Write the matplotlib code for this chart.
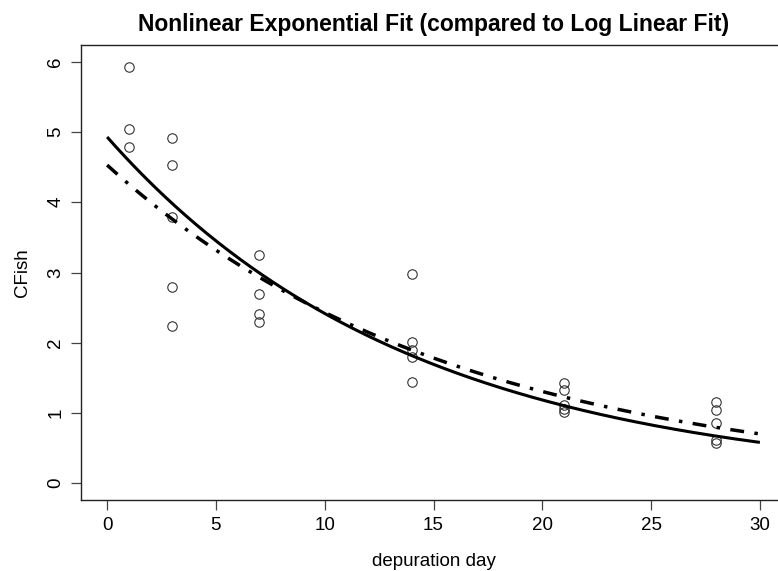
import numpy as np
import matplotlib
matplotlib.use("Agg")
import matplotlib.pyplot as plt

plt.rcParams['font.family'] = ['Liberation Sans', 'DejaVu Sans']

# observed fish concentrations by depuration day
day = [1, 1, 1,
       3, 3, 3, 3, 3,
       7, 7, 7, 7,
       14, 14, 14, 14, 14,
       21, 21, 21, 21, 21,
       28, 28, 28, 28, 28]
cfish = [5.93, 5.05, 4.79,
         4.91, 4.53, 3.79, 2.79, 2.24,
         3.25, 2.69, 2.41, 2.29,
         2.98, 2.01, 1.90, 1.79, 1.44,
         1.43, 1.32, 1.12, 1.05, 1.02,
         1.15, 1.04, 0.86, 0.61, 0.57]

# fitted model parameters: C = c0 * exp(-k * t)
nls_c0, nls_k = 4.93, 0.0713      # nonlinear exponential fit
log_c0, log_k = 4.53, 0.0622      # log linear fit (back-transformed)

xticks = [0, 5, 10, 15, 20, 25, 30]
yticks = [0, 1, 2, 3, 4, 5, 6]

fig = plt.figure(figsize=(7.78, 5.71), dpi=100)
ax = fig.add_axes([81 / 778, 71 / 571, 705 / 778, 455 / 571])

ax.plot(day, cfish, 'o', mfc='none', mec='#333333', ms=6.8, mew=0.8)

t = np.linspace(0, 30, 300)
ax.plot(t, nls_c0 * np.exp(-nls_k * t), color='black', lw=2.2, solid_capstyle='butt')
ax.plot(t, log_c0 * np.exp(-log_k * t), color='black', lw=2.5,
        dashes=(4, 3, 1, 3), dash_capstyle='butt')

ax.set_xlim(-1.2, 31.2)
ax.set_ylim(-0.24, 6.24)
ax.set_xticks(xticks)
ax.set_yticks(yticks)
ax.tick_params(direction='out', length=7, width=0.9, color='#444444',
               labelsize=13.5, pad=5)
for lab in ax.get_yticklabels():
    lab.set_rotation(90)
    lab.set_va('center')
for s in ax.spines.values():
    s.set_linewidth(1.0)
    s.set_color('#222222')

ax.set_xlabel('depuration day', fontsize=13.5, labelpad=14)
ax.set_ylabel('CFish', fontsize=13.5, labelpad=12)
ax.set_title('Nonlinear Exponential Fit (compared to Log Linear Fit)',
             fontsize=16.5, fontweight='bold', pad=10)

fig.savefig('out.png', dpi=100)
